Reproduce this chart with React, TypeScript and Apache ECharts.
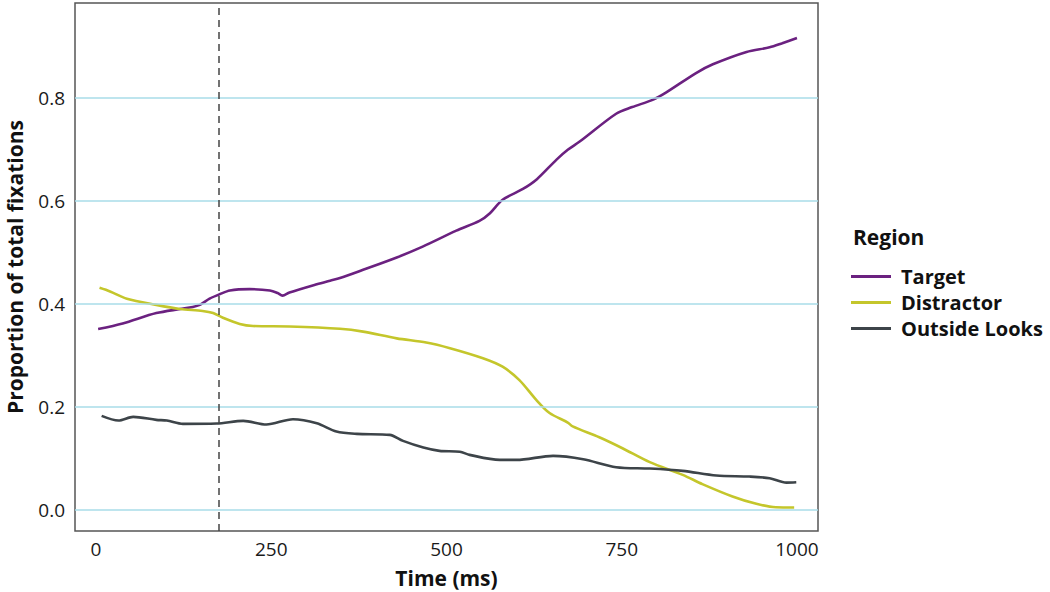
import React, { useEffect, useRef } from "react";
import * as echarts from "echarts";

// ---- Data ----
const seriesNames = ["Target", "Distractor", "Outside Looks"];

const targetData: [number, number][] = [
  [3, 0.351], [38, 0.362], [86, 0.382], [120, 0.39], [138, 0.394], [148, 0.398],
  [162, 0.41], [177, 0.419], [191, 0.426], [219, 0.4285], [248, 0.426], [259, 0.421],
  [266, 0.416], [276, 0.422], [315, 0.438], [334, 0.445], [348, 0.45], [381, 0.466],
  [429, 0.49], [466, 0.511], [514, 0.542], [547, 0.561], [562, 0.576], [580, 0.602],
  [609, 0.623], [629, 0.642], [657, 0.68], [673, 0.699], [690, 0.715], [742, 0.769],
  [765, 0.782], [794, 0.796], [813, 0.81], [856, 0.848], [880, 0.865], [928, 0.889],
  [961, 0.898], [979, 0.906], [1000, 0.916],
];

const distractorData: [number, number][] = [
  [5, 0.431], [20, 0.424], [44, 0.41], [86, 0.398], [120, 0.39], [152, 0.386],
  [167, 0.382], [181, 0.373], [205, 0.361], [224, 0.357], [276, 0.356], [348, 0.3515],
  [381, 0.346], [429, 0.333], [471, 0.325], [505, 0.314], [552, 0.2945], [580, 0.278],
  [604, 0.252], [628, 0.2136], [647, 0.188], [673, 0.1696], [680, 0.162], [718, 0.141],
  [751, 0.1197], [790, 0.0926], [837, 0.068], [865, 0.05], [908, 0.026], [942, 0.0117],
  [970, 0.005], [996, 0.0045],
];

const outsideData: [number, number][] = [
  [8, 0.1825], [32, 0.1735], [53, 0.1806], [86, 0.1748], [101, 0.1735], [124, 0.167],
  [172, 0.1676], [210, 0.1728], [243, 0.1657], [281, 0.176], [315, 0.168], [343, 0.152],
  [372, 0.1476], [419, 0.1456], [438, 0.134], [467, 0.121], [490, 0.1146], [519, 0.113],
  [533, 0.1068], [576, 0.097], [600, 0.097], [652, 0.1049], [695, 0.0984], [742, 0.0829],
  [790, 0.0803], [837, 0.0757], [885, 0.0667], [932, 0.0647], [961, 0.0615], [985, 0.053],
  [999, 0.0537],
];

const xTicks = [0, 250, 500, 750, 1000];
const yTicks = [0, 0.2, 0.4, 0.6, 0.8];
const markerTime = 175;

const colors = ["#6b2180", "#c4c62b", "#3d4449"];
const FONT = "Open Sans";

export default function App() {
  const ref = useRef<HTMLDivElement>(null);

  useEffect(() => {
    if (!ref.current) return;
    const chart = echarts.init(ref.current, null, { renderer: "svg" });
    const dataSets = [targetData, distractorData, outsideData];
    chart.setOption({
      animation: false,
      backgroundColor: "#ffffff",
      textStyle: { fontFamily: FONT },
      grid: {
        left: 75,
        right: 232,
        top: 3,
        bottom: 61,
        containLabel: false,
        outerBoundsMode: "none",
        show: true,
        borderColor: "#555555",
        borderWidth: 1.5,
        backgroundColor: "transparent",
      },
      title: {
        text: "Region",
        left: 848,
        top: 221,
        textStyle: { fontFamily: FONT, fontSize: 21, fontWeight: "bold", color: "#111" },
      },
      legend: {
        data: seriesNames,
        orient: "vertical",
        left: 846,
        top: 261,
        icon: "rect",
        itemWidth: 40,
        itemHeight: 3,
        itemGap: 5,
        textStyle: {
          fontFamily: FONT,
          fontSize: 20,
          fontWeight: "bold",
          color: "#111",
          padding: [0, 0, 0, 5],
          lineHeight: 21,
        },
      },
      xAxis: {
        type: "value",
        min: -30,
        max: 1030,
        name: "Time (ms)",
        nameLocation: "middle",
        nameGap: 36,
        nameMoveOverlap: false,
        nameTextStyle: { fontFamily: FONT, fontSize: 21, fontWeight: "bold", color: "#111" },
        axisLine: { show: false },
        axisTick: { show: false },
        splitLine: { show: false },
        axisLabel: {
          customValues: xTicks,
          margin: 8,
          fontFamily: FONT,
          fontSize: 19,
          color: "#1a1a1a",
          formatter: (v: number) => String(v),
        },
      },
      yAxis: {
        type: "value",
        min: -0.041,
        max: 0.984,
        name: "Proportion of total fixations",
        nameLocation: "middle",
        nameGap: 50,
        nameMoveOverlap: false,
        nameTextStyle: { fontFamily: FONT, fontSize: 21, fontWeight: "bold", color: "#111" },
        axisLine: { show: false },
        axisTick: { show: false },
        splitLine: { show: false },
        axisLabel: {
          customValues: yTicks,
          margin: 10,
          fontFamily: FONT,
          fontSize: 19,
          color: "#1a1a1a",
          formatter: (v: number) => v.toFixed(1),
        },
      },
      series: [
        {
          name: "__grid",
          type: "line",
          data: [],
          z: 1,
          silent: true,
          markLine: {
            silent: true,
            symbol: "none",
            label: { show: false },
            lineStyle: { color: "#a9dde8", width: 1.5, type: "solid" },
            data: yTicks.map((v) => ({ yAxis: v })),
          },
        },
        ...seriesNames.map((name, i) => ({
          name,
          type: "line",
          data: dataSets[i],
          showSymbol: false,
          symbol: "none",
          smooth: 0.3,
          z: 3,
          color: colors[i],
          lineStyle: { color: colors[i], width: 2.6 },
        })),
        {
          name: "__marker",
          type: "line",
          data: [],
          z: 4,
          silent: true,
          markLine: {
            silent: true,
            symbol: "none",
            label: { show: false },
            lineStyle: { color: "#444444", width: 1.5, type: [7, 5] },
            data: [{ xAxis: markerTime }],
          },
        },
      ],
    });
    return () => chart.dispose();
  }, []);

  return (
    <div
      ref={ref}
      style={{ position: "fixed", left: 0, top: 0, width: 1050, height: 592 }}
    />
  );
}
